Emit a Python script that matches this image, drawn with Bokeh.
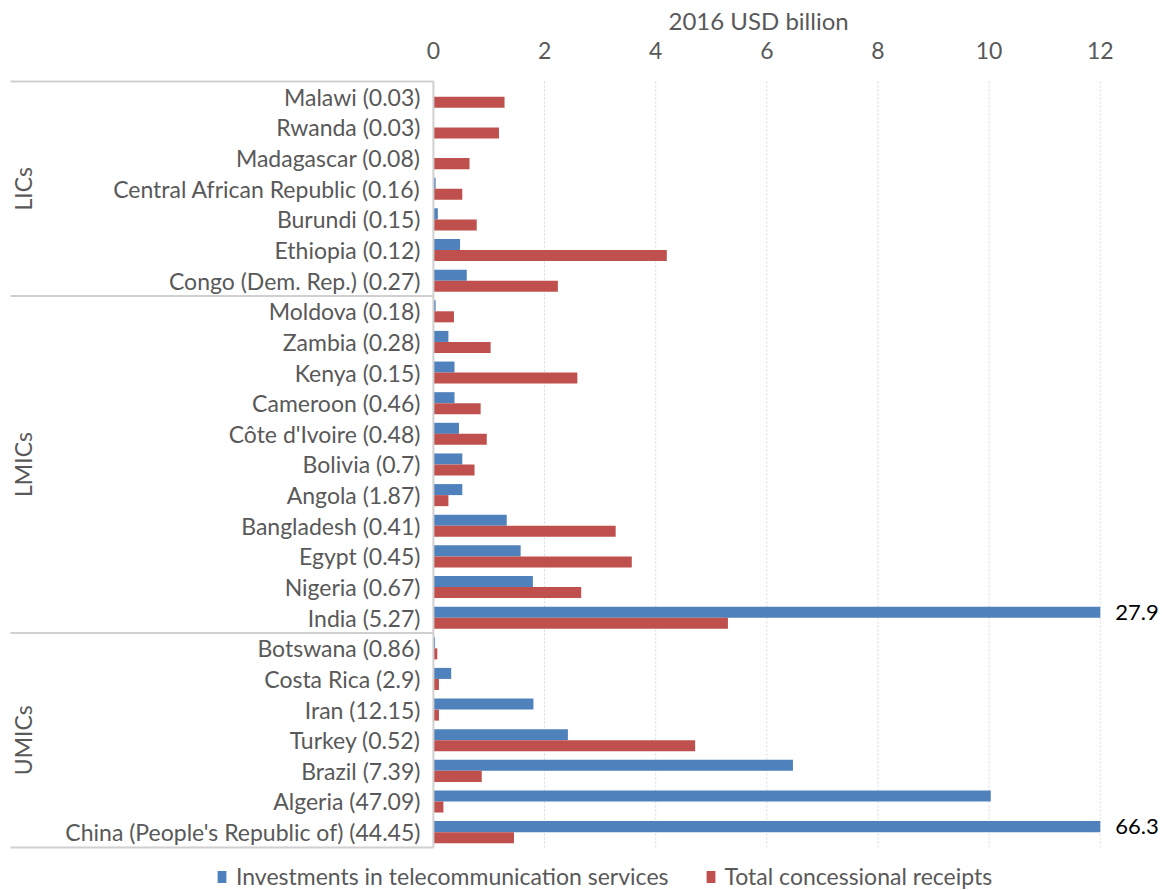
from bokeh.plotting import figure
from bokeh.models import Range1d, FixedTicker, ColumnDataSource, Legend, LegendItem
from bokeh.transform import dodge
from bokeh.core.properties import value
from bokeh.embed import file_html
from bokeh.resources import INLINE

# ---------------- data ----------------
countries = ["Malawi (0.03)", "Rwanda (0.03)", "Madagascar (0.08)",
             "Central African Republic (0.16)", "Burundi (0.15)", "Ethiopia (0.12)",
             "Congo (Dem. Rep.) (0.27)",
             "Moldova (0.18)", "Zambia (0.28)", "Kenya (0.15)", "Cameroon (0.46)",
             "Côte d'Ivoire (0.48)", "Bolivia (0.7)", "Angola (1.87)", "Bangladesh (0.41)",
             "Egypt (0.45)", "Nigeria (0.67)", "India (5.27)",
             "Botswana (0.86)", "Costa Rica (2.9)", "Iran (12.15)", "Turkey (0.52)",
             "Brazil (7.39)", "Algeria (47.09)", "China (People's Republic of) (44.45)"]
group_names = ["LICs", "LMICs", "UMICs"]
group_sizes = [7, 11, 7]
investments = [0.0, 0.0, 0.0, 0.04, 0.08, 0.48, 0.60,
               0.04, 0.27, 0.38, 0.38, 0.46, 0.52, 0.52, 1.32, 1.57, 1.79, 27.9,
               0.03, 0.32, 1.80, 2.42, 6.47, 10.03, 66.3]
receipts = [1.28, 1.18, 0.65, 0.52, 0.78, 4.20, 2.24,
            0.37, 1.03, 2.59, 0.85, 0.96, 0.74, 0.27, 3.28, 3.57, 2.66, 5.30,
            0.07, 0.10, 0.10, 4.71, 0.87, 0.18, 1.45]
x_ticks = [0, 2, 4, 6, 8, 10, 12]
axis_title = "2016 USD billion"
series_names = ["Investments in telecommunication services", "Total concessional receipts"]

AXIS_MAX = 12
FONT = "Lato"
GREY = "#595959"
BLUE = "#4F81BD"
RED = "#C0504D"
BOX = "#D0D0D0"

n = len(countries)
rows = list(range(n))
inv_clip = [min(v, AXIS_MAX) for v in investments]
rec_clip = [min(v, AXIS_MAX) for v in receipts]

src = ColumnDataSource(dict(y=rows, label=countries, inv=inv_clip, rec=rec_clip))

row_px = 30.6
frame_top = 72
y_top = -0.5 - (82 - frame_top) / row_px
y_bot = y_top + (890 - frame_top) / row_px

p = figure(width=1162, height=890, output_backend="svg", toolbar_location=None,
           x_range=Range1d(-7.79, 13.12), y_range=Range1d(y_bot, y_top),
           x_axis_location="above", y_axis_location=None,
           min_border=0, outline_line_color=None)
p.background_fill_color = "white"

# axis title (over the 0-12 scale)
p.title.text = axis_title
p.title.align = "left"
p.title.offset = 668
p.title.text_font = FONT
p.title.text_font_size = "24px"
p.title.text_font_style = "normal"
p.title.text_color = GREY
p.title.standoff = 7

# axis
ax = p.xaxis[0]
ax.ticker = FixedTicker(ticks=x_ticks)
ax.axis_line_color = None
ax.major_tick_line_color = None
ax.minor_tick_line_color = None
ax.major_tick_out = 0
ax.major_tick_in = 0
ax.major_label_text_font = FONT
ax.major_label_text_font_size = "23px"
ax.major_label_text_color = GREY
ax.major_label_standoff = 13

p.xgrid.visible = False
p.ygrid.visible = False

# group boxes / bounds
left_edge = -7.61
bounds = [-0.5]
for s in group_sizes:
    bounds.append(bounds[-1] + s)

# gridlines (dotted) over the data area
gt = [t for t in x_ticks if t != 0]
p.segment(x0=gt, x1=gt, y0=[bounds[0]] * len(gt), y1=[bounds[-1]] * len(gt),
          line_color="#D9D9D9", line_dash="2 2", line_width=1)

# bars
bh = 0.36
r_inv = p.hbar(y=dodge("y", -0.18, range=p.y_range), left=0, right="inv", height=bh,
               color=BLUE, line_color=None, source=src)
r_rec = p.hbar(y=dodge("y", 0.18, range=p.y_range), left=0, right="rec", height=bh,
               color=RED, line_color=None, source=src)

# values exceeding axis
over_y = [r - 0.18 for r, v in zip(rows, investments) if v > AXIS_MAX]
over_t = [f"{v:g}" for v in investments if v > AXIS_MAX]
p.text(x=[AXIS_MAX] * len(over_y), y=over_y, text=over_t, x_offset=15,
       text_align="left", text_baseline="middle", text_font=value(FONT),
       text_font_size="22px", text_color="black")

# category labels
p.text(x=0, y="y", text="label", x_offset=-13, source=src, text_align="right",
       text_baseline="middle", text_font=value(FONT), text_font_size="23px",
       text_color=GREY)

p.segment(x0=[left_edge] * len(bounds), x1=[0] * len(bounds), y0=bounds, y1=bounds,
          line_color=BOX, line_width=2)
p.segment(x0=[0], x1=[0], y0=[bounds[0]], y1=[bounds[-1]], line_color=BOX, line_width=2)
centers = [(a + b) / 2 for a, b in zip(bounds[:-1], bounds[1:])]
p.text(x=[-7.38] * len(centers), y=centers, text=group_names, angle=1.5708,
       text_align="center", text_baseline="middle", text_font=value(FONT),
       text_font_size="23px", text_color=GREY)

legend = Legend(items=[LegendItem(label=series_names[0], renderers=[r_inv]),
                       LegendItem(label=series_names[1], renderers=[r_rec])],
                orientation="horizontal", location=(216, 0),
                label_text_font=FONT, label_text_font_size="23px", label_text_color=GREY,
                glyph_width=11, glyph_height=15, spacing=36, padding=0, margin=0,
                label_standoff=9,
                border_line_color=None, background_fill_alpha=0)
p.add_layout(legend)

open("out.html", "w").write(file_html(p, INLINE))
